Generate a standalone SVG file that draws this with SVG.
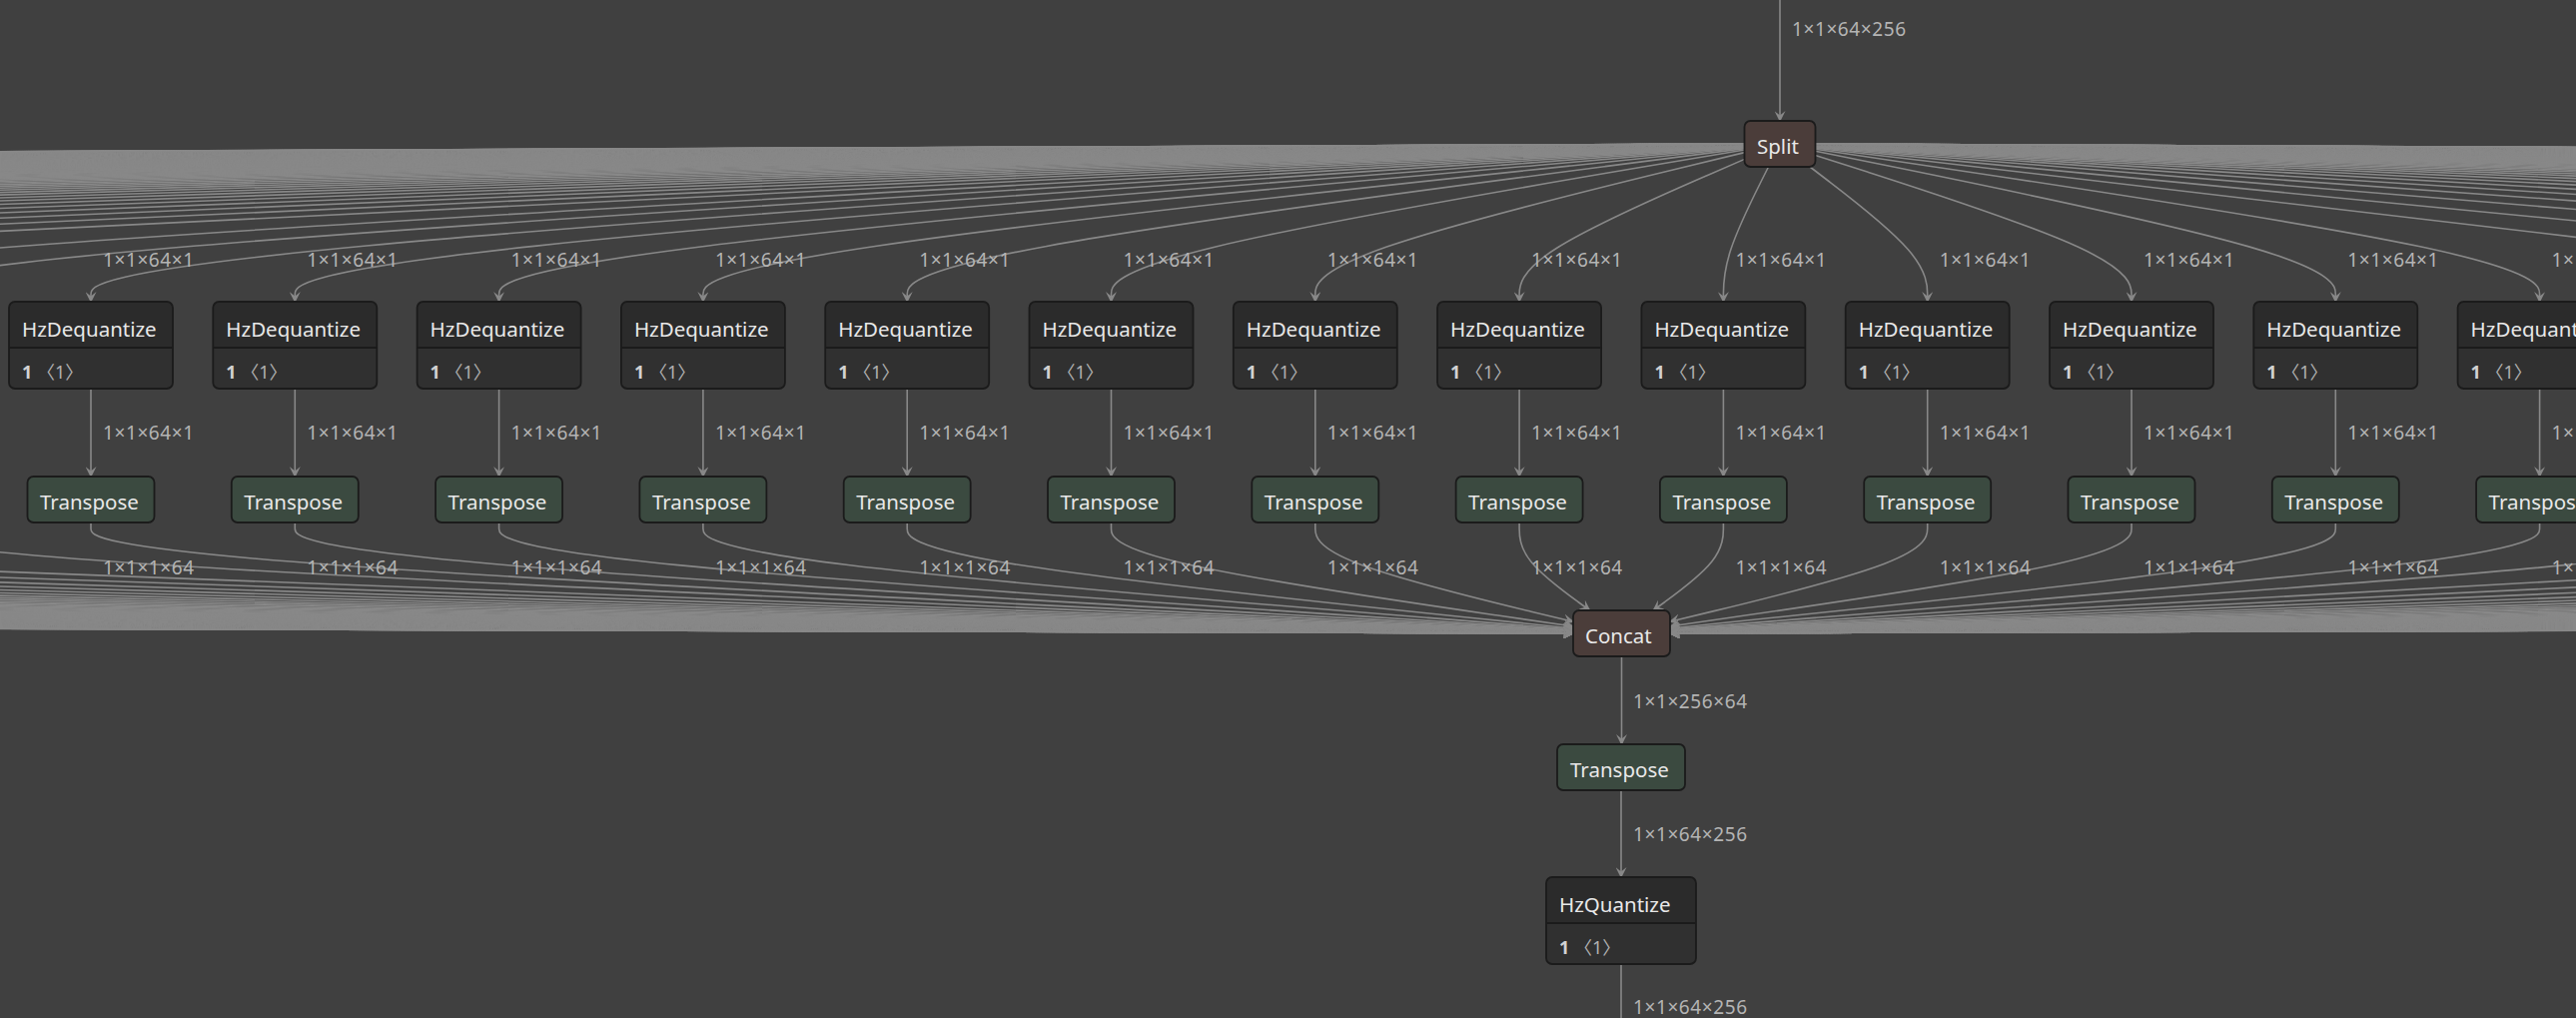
<svg xmlns="http://www.w3.org/2000/svg" width="2579" height="1019" viewBox="0 0 2579 1019">
<defs>
<marker id="arrow" viewBox="0 0 10 10" refX="9" refY="5" markerUnits="userSpaceOnUse" markerWidth="11" markerHeight="11" orient="auto"><path d="M0 0L10 5L0 10L4 5Z" fill="#888"/></marker>
<style>
.e path{fill:none;stroke:#888;stroke-width:1.6}
.e .a path,.e path.a{marker-end:url(#arrow)}
.lbl text{font-family:"Noto Sans","Open Sans",sans-serif;font-size:19px;fill:#b4b4b4;letter-spacing:0.6px;transform:translateY(1.5px)}
.nt{font-family:"Noto Sans","Open Sans",sans-serif;font-size:20.5px;fill:#e8e8e8;transform:translateY(1.5px)}
.at{font-family:"Noto Sans","Noto Sans CJK JP",sans-serif;font-size:18px;fill:#b0b0b0;transform:translateY(1.5px)}
.at .b{font-weight:bold;fill:#d2d2d2}
.bf{fill:#303030}
.hdr{fill:#2b2b2b}
.ol{fill:none;stroke:#1b1b1b;stroke-width:1.8}
.dv{stroke:#1b1b1b;stroke-width:1.8}
.tr{fill:#3b4a40;stroke:#1b1b1b;stroke-width:1.8}
.br{fill:#4b3d3a;stroke:#1b1b1b;stroke-width:1.8}
</style>
</defs>
<rect width="2579" height="1019" fill="#404040"/>
<g id="connectors" class="e">
<g id="split-far-left">
<path d="M1782 144L-521.9 257"/><path d="M1782 144L-726.2 257"/><path d="M1782 144L-930.5 257"/><path d="M1782 144L-1134.8 257"/><path d="M1782 144L-1339.1 257"/><path d="M1782 144L-1543.4 257"/><path d="M1782 144L-1747.7 257"/><path d="M1782 144L-1952 257"/><path d="M1782 144L-2156.3 257"/><path d="M1782 144L-2360.6 257"/><path d="M1782 144L-2564.9 257"/><path d="M1782 144L-2769.2 257"/><path d="M1782 144L-2973.5 257"/><path d="M1782 144L-3177.8 257"/><path d="M1782 144L-3382.1 257"/><path d="M1782 144L-3586.4 257"/><path d="M1782 144L-3790.7 257"/><path d="M1782 144L-3995 257"/><path d="M1782 144L-4199.3 257"/><path d="M1782 144L-4403.6 257"/><path d="M1782 144L-4607.9 257"/><path d="M1782 144L-4812.2 257"/><path d="M1782 144L-5016.5 257"/><path d="M1782 144L-5220.8 257"/><path d="M1782 144L-5425.1 257"/><path d="M1782 144L-5629.4 257"/><path d="M1782 144L-5833.7 257"/><path d="M1782 144L-6038 257"/><path d="M1782 144L-6242.3 257"/><path d="M1782 144L-6446.6 257"/><path d="M1782 144L-6650.9 257"/><path d="M1782 144L-6855.2 257"/><path d="M1782 144L-7059.5 257"/><path d="M1782 144L-7263.8 257"/><path d="M1782 144L-7468.1 257"/><path d="M1782 144L-7672.4 257"/><path d="M1782 144L-7876.7 257"/><path d="M1782 144L-8081 257"/><path d="M1782 144L-8285.3 257"/><path d="M1782 144L-8489.6 257"/><path d="M1782 144L-8693.9 257"/><path d="M1782 144L-8898.2 257"/><path d="M1782 144L-9102.5 257"/><path d="M1782 144L-9306.8 257"/><path d="M1782 144L-9511.1 257"/><path d="M1782 144L-9715.4 257"/><path d="M1782 144L-9919.7 257"/><path d="M1782 144L-10124 257"/><path d="M1782 144L-10328.3 257"/><path d="M1782 144L-10532.6 257"/><path d="M1782 144L-10736.9 257"/><path d="M1782 144L-10941.2 257"/><path d="M1782 144L-11145.5 257"/><path d="M1782 144L-11349.8 257"/><path d="M1782 144L-11554.1 257"/><path d="M1782 144L-11758.4 257"/><path d="M1782 144L-11962.7 257"/><path d="M1782 144L-12167 257"/><path d="M1782 144L-12371.3 257"/><path d="M1782 144L-12575.6 257"/><path d="M1782 144L-12779.9 257"/><path d="M1782 144L-12984.2 257"/><path d="M1782 144L-13188.5 257"/><path d="M1782 144L-13392.8 257"/><path d="M1782 144L-13597.1 257"/><path d="M1782 144L-13801.4 257"/><path d="M1782 144L-14005.7 257"/><path d="M1782 144L-14210 257"/><path d="M1782 144L-14414.3 257"/><path d="M1782 144L-14618.6 257"/><path d="M1782 144L-14822.9 257"/><path d="M1782 144L-15027.2 257"/><path d="M1782 144L-15231.5 257"/><path d="M1782 144L-15435.8 257"/><path d="M1782 144L-15640.1 257"/><path d="M1782 144L-15844.4 257"/><path d="M1782 144L-16048.7 257"/><path d="M1782 144L-16253 257"/><path d="M1782 144L-16457.3 257"/><path d="M1782 144L-16661.6 257"/><path d="M1782 144L-16865.9 257"/><path d="M1782 144L-17070.2 257"/><path d="M1782 144L-17274.5 257"/><path d="M1782 144L-17478.8 257"/><path d="M1782 144L-17683.1 257"/><path d="M1782 144L-17887.4 257"/><path d="M1782 144L-18091.7 257"/><path d="M1782 144L-18296 257"/><path d="M1782 144L-18500.3 257"/><path d="M1782 144L-18704.6 257"/><path d="M1782 144L-18908.9 257"/><path d="M1782 144L-19113.2 257"/><path d="M1782 144L-19317.5 257"/><path d="M1782 144L-19521.8 257"/><path d="M1782 144L-19726.1 257"/><path d="M1782 144L-19930.4 257"/><path d="M1782 144L-20134.7 257"/><path d="M1782 144L-20339 257"/><path d="M1782 144L-20543.3 257"/><path d="M1782 144L-20747.6 257"/><path d="M1782 144L-20951.9 257"/><path d="M1782 144L-21156.2 257"/><path d="M1782 144L-21360.5 257"/><path d="M1782 144L-21564.8 257"/><path d="M1782 144L-21769.1 257"/><path d="M1782 144L-21973.4 257"/><path d="M1782 144L-22177.7 257"/><path d="M1782 144L-22382 257"/><path d="M1782 144L-22586.3 257"/><path d="M1782 144L-22790.6 257"/><path d="M1782 144L-22994.9 257"/><path d="M1782 144L-23199.2 257"/><path d="M1782 144L-23403.5 257"/><path d="M1782 144L-23607.8 257"/><path d="M1782 144L-23812.1 257"/><path d="M1782 144L-24016.4 257"/><path d="M1782 144L-24220.7 257"/><path d="M1782 144L-24425 257"/>
</g>
<g id="split-far-right">
<path d="M1782 144L2746.9 257"/><path d="M1782 144L2951.2 257"/><path d="M1782 144L3155.5 257"/><path d="M1782 144L3359.8 257"/><path d="M1782 144L3564.1 257"/><path d="M1782 144L3768.4 257"/><path d="M1782 144L3972.7 257"/><path d="M1782 144L4177 257"/><path d="M1782 144L4381.3 257"/><path d="M1782 144L4585.6 257"/><path d="M1782 144L4789.9 257"/><path d="M1782 144L4994.2 257"/><path d="M1782 144L5198.5 257"/><path d="M1782 144L5402.8 257"/><path d="M1782 144L5607.1 257"/><path d="M1782 144L5811.4 257"/><path d="M1782 144L6015.7 257"/><path d="M1782 144L6220 257"/><path d="M1782 144L6424.3 257"/><path d="M1782 144L6628.6 257"/><path d="M1782 144L6832.9 257"/><path d="M1782 144L7037.2 257"/><path d="M1782 144L7241.5 257"/><path d="M1782 144L7445.8 257"/><path d="M1782 144L7650.1 257"/><path d="M1782 144L7854.4 257"/><path d="M1782 144L8058.7 257"/><path d="M1782 144L8263 257"/><path d="M1782 144L8467.3 257"/><path d="M1782 144L8671.6 257"/><path d="M1782 144L8875.9 257"/><path d="M1782 144L9080.2 257"/><path d="M1782 144L9284.5 257"/><path d="M1782 144L9488.8 257"/><path d="M1782 144L9693.1 257"/><path d="M1782 144L9897.4 257"/><path d="M1782 144L10101.7 257"/><path d="M1782 144L10306 257"/><path d="M1782 144L10510.3 257"/><path d="M1782 144L10714.6 257"/><path d="M1782 144L10918.9 257"/><path d="M1782 144L11123.2 257"/><path d="M1782 144L11327.5 257"/><path d="M1782 144L11531.8 257"/><path d="M1782 144L11736.1 257"/><path d="M1782 144L11940.4 257"/><path d="M1782 144L12144.7 257"/><path d="M1782 144L12349 257"/><path d="M1782 144L12553.3 257"/><path d="M1782 144L12757.6 257"/><path d="M1782 144L12961.9 257"/><path d="M1782 144L13166.2 257"/><path d="M1782 144L13370.5 257"/><path d="M1782 144L13574.8 257"/><path d="M1782 144L13779.1 257"/><path d="M1782 144L13983.4 257"/><path d="M1782 144L14187.7 257"/><path d="M1782 144L14392 257"/><path d="M1782 144L14596.3 257"/><path d="M1782 144L14800.6 257"/><path d="M1782 144L15004.9 257"/><path d="M1782 144L15209.2 257"/><path d="M1782 144L15413.5 257"/><path d="M1782 144L15617.8 257"/><path d="M1782 144L15822.1 257"/><path d="M1782 144L16026.4 257"/><path d="M1782 144L16230.7 257"/><path d="M1782 144L16435 257"/><path d="M1782 144L16639.3 257"/><path d="M1782 144L16843.6 257"/><path d="M1782 144L17047.9 257"/><path d="M1782 144L17252.2 257"/><path d="M1782 144L17456.5 257"/><path d="M1782 144L17660.8 257"/><path d="M1782 144L17865.1 257"/><path d="M1782 144L18069.4 257"/><path d="M1782 144L18273.7 257"/><path d="M1782 144L18478 257"/><path d="M1782 144L18682.3 257"/><path d="M1782 144L18886.6 257"/><path d="M1782 144L19090.9 257"/><path d="M1782 144L19295.2 257"/><path d="M1782 144L19499.5 257"/><path d="M1782 144L19703.8 257"/><path d="M1782 144L19908.1 257"/><path d="M1782 144L20112.4 257"/><path d="M1782 144L20316.7 257"/><path d="M1782 144L20521 257"/><path d="M1782 144L20725.3 257"/><path d="M1782 144L20929.6 257"/><path d="M1782 144L21133.9 257"/><path d="M1782 144L21338.2 257"/><path d="M1782 144L21542.5 257"/><path d="M1782 144L21746.8 257"/><path d="M1782 144L21951.1 257"/><path d="M1782 144L22155.4 257"/><path d="M1782 144L22359.7 257"/><path d="M1782 144L22564 257"/><path d="M1782 144L22768.3 257"/><path d="M1782 144L22972.6 257"/><path d="M1782 144L23176.9 257"/><path d="M1782 144L23381.2 257"/><path d="M1782 144L23585.5 257"/><path d="M1782 144L23789.8 257"/><path d="M1782 144L23994.1 257"/><path d="M1782 144L24198.4 257"/><path d="M1782 144L24402.7 257"/><path d="M1782 144L24607 257"/><path d="M1782 144L24811.3 257"/><path d="M1782 144L25015.6 257"/><path d="M1782 144L25219.9 257"/><path d="M1782 144L25424.2 257"/><path d="M1782 144L25628.5 257"/><path d="M1782 144L25832.8 257"/><path d="M1782 144L26037.1 257"/><path d="M1782 144L26241.4 257"/><path d="M1782 144L26445.7 257"/><path d="M1782 144L26650 257"/><path d="M1782 144L26854.3 257"/><path d="M1782 144L27058.6 257"/><path d="M1782 144L27262.9 257"/><path d="M1782 144L27467.2 257"/><path d="M1782 144L27671.5 257"/>
</g>
<g id="split-near" class="a">
<path d="M1746.5 145.91L1402.48 164.43C1058.47 182.94 370.43 219.97 26.42 245.99C-317.6 272 -317.6 287 -317.6 294.5L-317.6 302"/>
<path d="M1746.5 146.12L1436.53 164.6C1126.57 183.08 506.63 220.04 196.67 246.02C-113.3 272 -113.3 287 -113.3 294.5L-113.3 302"/>
<path d="M1746.5 146.37L1470.58 164.81C1194.67 183.25 642.83 220.12 366.92 246.06C91 272 91 287 91 294.5L91 302"/>
<path d="M1746.5 146.7L1504.63 165.08C1262.77 183.47 779.03 220.23 537.17 246.12C295.3 272 295.3 287 295.3 294.5L295.3 302"/>
<path d="M1746.5 147.13L1538.68 165.44C1330.87 183.75 915.23 220.38 707.42 246.19C499.6 272 499.6 287 499.6 294.5L499.6 302"/>
<path d="M1746.5 147.72L1572.73 165.93C1398.97 184.15 1051.43 220.57 877.67 246.29C703.9 272 703.9 287 703.9 294.5L703.9 302"/>
<path d="M1746.5 148.59L1606.78 166.66C1467.07 184.73 1187.63 220.86 1047.92 246.43C908.2 272 908.2 287 908.2 294.5L908.2 302"/>
<path d="M1746.5 149.99L1640.83 167.83C1535.17 185.66 1323.83 221.33 1218.17 246.67C1112.5 272 1112.5 287 1112.5 294.5L1112.5 302"/>
<path d="M1746.5 152.62L1674.88 170.02C1603.27 187.41 1460.03 222.21 1388.42 247.1C1316.8 272 1316.8 287 1316.8 294.5L1316.8 302"/>
<path d="M1746.5 159.38L1708.93 175.65C1671.37 191.92 1596.23 224.46 1558.67 248.23C1521.1 272 1521.1 287 1521.1 294.5L1521.1 302"/>
<path d="M1770.48 167L1762.97 182C1755.45 197 1740.43 227 1732.91 249.5C1725.4 272 1725.4 287 1725.4 294.5L1725.4 302"/>
<path d="M1812.06 167L1831.67 182C1851.27 197 1890.49 227 1910.09 249.5C1929.7 272 1929.7 287 1929.7 294.5L1929.7 302"/>
<path d="M1817.5 155.4L1870.25 172.33C1923 189.27 2028.5 223.13 2081.25 247.57C2134 272 2134 287 2134 294.5L2134 302"/>
<path d="M1817.5 151.21L1904.3 168.84C1991.1 186.47 2164.7 221.74 2251.5 246.87C2338.3 272 2338.3 287 2338.3 294.5L2338.3 302"/>
<path d="M1817.5 149.27L1938.35 167.23C2059.2 185.18 2300.9 221.09 2421.75 246.55C2542.6 272 2542.6 287 2542.6 294.5L2542.6 302"/>
</g>
<g id="deq-to-transpose" class="a">
<path d="M91 389V477"/><path d="M295.3 389V477"/><path d="M499.6 389V477"/><path d="M703.9 389V477"/><path d="M908.2 389V477"/><path d="M1112.5 389V477"/><path d="M1316.8 389V477"/><path d="M1521.1 389V477"/><path d="M1725.4 389V477"/><path d="M1929.7 389V477"/><path d="M2134 389V477"/><path d="M2338.3 389V477"/><path d="M2542.6 389V477"/>
</g>
<g id="concat-near" class="a">
<path d="M-113.3 523L-113.3 529.17C-113.3 535.33 -113.3 547.67 168.08 565.82C449.47 583.98 1012.23 607.95 1293.62 619.94L1575 631.93"/>
<path d="M91 523L91 529.17C91 535.33 91 547.67 338.33 565.78C585.67 583.89 1080.33 607.77 1327.67 619.72L1575 631.66"/>
<path d="M295.3 523L295.3 529.17C295.3 535.33 295.3 547.67 508.58 565.72C721.87 583.77 1148.43 607.53 1361.72 619.42L1575 631.3"/>
<path d="M499.6 523L499.6 529.17C499.6 535.33 499.6 547.67 678.83 565.64C858.07 583.6 1216.53 607.21 1395.77 619.01L1575 630.81"/>
<path d="M703.9 523L703.9 529.17C703.9 535.33 703.9 547.67 849.08 565.52C994.27 583.37 1284.63 606.73 1429.82 618.42L1575 630.1"/>
<path d="M908.2 523L908.2 529.17C908.2 535.33 908.2 547.67 1019.33 565.33C1130.47 582.99 1352.73 605.99 1463.87 617.48L1575 628.98"/>
<path d="M1112.5 523L1112.5 529.17C1112.5 535.33 1112.5 547.67 1189.58 565C1266.67 582.33 1420.83 604.65 1497.92 615.82L1575 626.98"/>
<path d="M1316.8 523L1316.8 529.17C1316.8 535.33 1316.8 547.67 1359.83 564.22C1402.87 580.77 1488.93 601.53 1531.97 611.92L1575 622.3"/>
<path d="M1521.1 523L1521.1 529.17C1521.1 535.33 1521.1 547.67 1532.86 562.33C1544.62 577 1568.15 594 1579.91 602.5L1591.67 611"/>
<path d="M1725.4 523L1725.4 529.17C1725.4 535.33 1725.4 547.67 1713.7 562.33C1701.99 577 1678.58 594 1666.88 602.5L1655.17 611"/>
<path d="M1929.7 523L1929.7 529.17C1929.7 535.33 1929.7 547.67 1886.75 564.21C1843.8 580.76 1757.9 601.52 1714.95 611.9L1672 622.28"/>
<path d="M2134 523L2134 529.17C2134 535.33 2134 547.67 2057 565C1980 582.32 1826 604.65 1749 615.81L1672 626.97"/>
<path d="M2338.3 523L2338.3 529.17C2338.3 535.33 2338.3 547.67 2227.25 565.33C2116.2 582.99 1894.1 605.99 1783.05 617.48L1672 628.98"/>
<path d="M2542.6 523L2542.6 529.17C2542.6 535.33 2542.6 547.67 2397.5 565.52C2252.4 583.37 1962.2 606.73 1817.1 618.42L1672 630.1"/>
<path d="M2746.9 523L2746.9 529.17C2746.9 535.33 2746.9 547.67 2567.75 565.64C2388.6 583.6 2030.3 607.21 1851.15 619.01L1672 630.81"/>
</g>
<g id="concat-far-left" class="a">
<path d="M-317.6 560L1575 632.2"/><path d="M-521.9 560L1575 632.3"/><path d="M-726.2 560L1575 632.5"/><path d="M-930.5 560L1575 632.6"/><path d="M-1134.8 560L1575 632.7"/><path d="M-1339.1 560L1575 632.8"/><path d="M-1543.4 560L1575 632.9"/><path d="M-1747.7 560L1575 632.9"/><path d="M-1952 560L1575 633"/><path d="M-2156.3 560L1575 633.1"/><path d="M-2360.6 560L1575 633.1"/><path d="M-2564.9 560L1575 633.1"/><path d="M-2769.2 560L1575 633.2"/><path d="M-2973.5 560L1575 633.2"/><path d="M-3177.8 560L1575 633.3"/><path d="M-3382.1 560L1575 633.3"/><path d="M-3586.4 560L1575 633.3"/><path d="M-3790.7 560L1575 633.3"/><path d="M-3995 560L1575 633.4"/><path d="M-4199.3 560L1575 633.4"/><path d="M-4403.6 560L1575 633.4"/><path d="M-4607.9 560L1575 633.4"/><path d="M-4812.2 560L1575 633.4"/><path d="M-5016.5 560L1575 633.5"/><path d="M-5220.8 560L1575 633.5"/><path d="M-5425.1 560L1575 633.5"/><path d="M-5629.4 560L1575 633.5"/><path d="M-5833.7 560L1575 633.5"/><path d="M-6038 560L1575 633.5"/><path d="M-6242.3 560L1575 633.5"/><path d="M-6446.6 560L1575 633.6"/><path d="M-6650.9 560L1575 633.6"/><path d="M-6855.2 560L1575 633.6"/><path d="M-7059.5 560L1575 633.6"/><path d="M-7263.8 560L1575 633.6"/><path d="M-7468.1 560L1575 633.6"/><path d="M-7672.4 560L1575 633.6"/><path d="M-7876.7 560L1575 633.6"/><path d="M-8081 560L1575 633.6"/><path d="M-8285.3 560L1575 633.6"/><path d="M-8489.6 560L1575 633.6"/><path d="M-8693.9 560L1575 633.7"/><path d="M-8898.2 560L1575 633.7"/><path d="M-9102.5 560L1575 633.7"/><path d="M-9306.8 560L1575 633.7"/><path d="M-9511.1 560L1575 633.7"/><path d="M-9715.4 560L1575 633.7"/><path d="M-9919.7 560L1575 633.7"/><path d="M-10124 560L1575 633.7"/><path d="M-10328.3 560L1575 633.7"/><path d="M-10532.6 560L1575 633.7"/><path d="M-10736.9 560L1575 633.7"/><path d="M-10941.2 560L1575 633.7"/><path d="M-11145.5 560L1575 633.7"/><path d="M-11349.8 560L1575 633.7"/><path d="M-11554.1 560L1575 633.7"/><path d="M-11758.4 560L1575 633.7"/><path d="M-11962.7 560L1575 633.7"/><path d="M-12167 560L1575 633.7"/><path d="M-12371.3 560L1575 633.7"/><path d="M-12575.6 560L1575 633.7"/><path d="M-12779.9 560L1575 633.7"/><path d="M-12984.2 560L1575 633.8"/><path d="M-13188.5 560L1575 633.8"/><path d="M-13392.8 560L1575 633.8"/><path d="M-13597.1 560L1575 633.8"/><path d="M-13801.4 560L1575 633.8"/><path d="M-14005.7 560L1575 633.8"/><path d="M-14210 560L1575 633.8"/><path d="M-14414.3 560L1575 633.8"/><path d="M-14618.6 560L1575 633.8"/><path d="M-14822.9 560L1575 633.8"/><path d="M-15027.2 560L1575 633.8"/><path d="M-15231.5 560L1575 633.8"/><path d="M-15435.8 560L1575 633.8"/><path d="M-15640.1 560L1575 633.8"/><path d="M-15844.4 560L1575 633.8"/><path d="M-16048.7 560L1575 633.8"/><path d="M-16253 560L1575 633.8"/><path d="M-16457.3 560L1575 633.8"/><path d="M-16661.6 560L1575 633.8"/><path d="M-16865.9 560L1575 633.8"/><path d="M-17070.2 560L1575 633.8"/><path d="M-17274.5 560L1575 633.8"/><path d="M-17478.8 560L1575 633.8"/><path d="M-17683.1 560L1575 633.8"/><path d="M-17887.4 560L1575 633.8"/><path d="M-18091.7 560L1575 633.8"/><path d="M-18296 560L1575 633.8"/><path d="M-18500.3 560L1575 633.8"/><path d="M-18704.6 560L1575 633.8"/><path d="M-18908.9 560L1575 633.8"/><path d="M-19113.2 560L1575 633.8"/><path d="M-19317.5 560L1575 633.8"/><path d="M-19521.8 560L1575 633.8"/><path d="M-19726.1 560L1575 633.8"/><path d="M-19930.4 560L1575 633.8"/><path d="M-20134.7 560L1575 633.8"/><path d="M-20339 560L1575 633.8"/><path d="M-20543.3 560L1575 633.8"/><path d="M-20747.6 560L1575 633.8"/><path d="M-20951.9 560L1575 633.8"/><path d="M-21156.2 560L1575 633.8"/><path d="M-21360.5 560L1575 633.8"/><path d="M-21564.8 560L1575 633.8"/><path d="M-21769.1 560L1575 633.8"/><path d="M-21973.4 560L1575 633.8"/><path d="M-22177.7 560L1575 633.8"/><path d="M-22382 560L1575 633.8"/><path d="M-22586.3 560L1575 633.8"/><path d="M-22790.6 560L1575 633.8"/><path d="M-22994.9 560L1575 633.8"/><path d="M-23199.2 560L1575 633.8"/><path d="M-23403.5 560L1575 633.8"/><path d="M-23607.8 560L1575 633.8"/><path d="M-23812.1 560L1575 633.8"/><path d="M-24016.4 560L1575 633.8"/><path d="M-24220.7 560L1575 633.8"/><path d="M-24425 560L1575 633.8"/>
</g>
<g id="concat-far-right" class="a">
<path d="M2951.2 560L1672 631.3"/><path d="M3155.5 560L1672 631.7"/><path d="M3359.8 560L1672 631.9"/><path d="M3564.1 560L1672 632.2"/><path d="M3768.4 560L1672 632.3"/><path d="M3972.7 560L1672 632.5"/><path d="M4177 560L1672 632.6"/><path d="M4381.3 560L1672 632.7"/><path d="M4585.6 560L1672 632.8"/><path d="M4789.9 560L1672 632.9"/><path d="M4994.2 560L1672 632.9"/><path d="M5198.5 560L1672 633"/><path d="M5402.8 560L1672 633.1"/><path d="M5607.1 560L1672 633.1"/><path d="M5811.4 560L1672 633.1"/><path d="M6015.7 560L1672 633.2"/><path d="M6220 560L1672 633.2"/><path d="M6424.3 560L1672 633.3"/><path d="M6628.6 560L1672 633.3"/><path d="M6832.9 560L1672 633.3"/><path d="M7037.2 560L1672 633.3"/><path d="M7241.5 560L1672 633.4"/><path d="M7445.8 560L1672 633.4"/><path d="M7650.1 560L1672 633.4"/><path d="M7854.4 560L1672 633.4"/><path d="M8058.7 560L1672 633.4"/><path d="M8263 560L1672 633.5"/><path d="M8467.3 560L1672 633.5"/><path d="M8671.6 560L1672 633.5"/><path d="M8875.9 560L1672 633.5"/><path d="M9080.2 560L1672 633.5"/><path d="M9284.5 560L1672 633.5"/><path d="M9488.8 560L1672 633.5"/><path d="M9693.1 560L1672 633.6"/><path d="M9897.4 560L1672 633.6"/><path d="M10101.7 560L1672 633.6"/><path d="M10306 560L1672 633.6"/><path d="M10510.3 560L1672 633.6"/><path d="M10714.6 560L1672 633.6"/><path d="M10918.9 560L1672 633.6"/><path d="M11123.2 560L1672 633.6"/><path d="M11327.5 560L1672 633.6"/><path d="M11531.8 560L1672 633.6"/><path d="M11736.1 560L1672 633.6"/><path d="M11940.4 560L1672 633.7"/><path d="M12144.7 560L1672 633.7"/><path d="M12349 560L1672 633.7"/><path d="M12553.3 560L1672 633.7"/><path d="M12757.6 560L1672 633.7"/><path d="M12961.9 560L1672 633.7"/><path d="M13166.2 560L1672 633.7"/><path d="M13370.5 560L1672 633.7"/><path d="M13574.8 560L1672 633.7"/><path d="M13779.1 560L1672 633.7"/><path d="M13983.4 560L1672 633.7"/><path d="M14187.7 560L1672 633.7"/><path d="M14392 560L1672 633.7"/><path d="M14596.3 560L1672 633.7"/><path d="M14800.6 560L1672 633.7"/><path d="M15004.9 560L1672 633.7"/><path d="M15209.2 560L1672 633.7"/><path d="M15413.5 560L1672 633.7"/><path d="M15617.8 560L1672 633.7"/><path d="M15822.1 560L1672 633.7"/><path d="M16026.4 560L1672 633.7"/><path d="M16230.7 560L1672 633.8"/><path d="M16435 560L1672 633.8"/><path d="M16639.3 560L1672 633.8"/><path d="M16843.6 560L1672 633.8"/><path d="M17047.9 560L1672 633.8"/><path d="M17252.2 560L1672 633.8"/><path d="M17456.5 560L1672 633.8"/><path d="M17660.8 560L1672 633.8"/><path d="M17865.1 560L1672 633.8"/><path d="M18069.4 560L1672 633.8"/><path d="M18273.7 560L1672 633.8"/><path d="M18478 560L1672 633.8"/><path d="M18682.3 560L1672 633.8"/><path d="M18886.6 560L1672 633.8"/><path d="M19090.9 560L1672 633.8"/><path d="M19295.2 560L1672 633.8"/><path d="M19499.5 560L1672 633.8"/><path d="M19703.8 560L1672 633.8"/><path d="M19908.1 560L1672 633.8"/><path d="M20112.4 560L1672 633.8"/><path d="M20316.7 560L1672 633.8"/><path d="M20521 560L1672 633.8"/><path d="M20725.3 560L1672 633.8"/><path d="M20929.6 560L1672 633.8"/><path d="M21133.9 560L1672 633.8"/><path d="M21338.2 560L1672 633.8"/><path d="M21542.5 560L1672 633.8"/><path d="M21746.8 560L1672 633.8"/><path d="M21951.1 560L1672 633.8"/><path d="M22155.4 560L1672 633.8"/><path d="M22359.7 560L1672 633.8"/><path d="M22564 560L1672 633.8"/><path d="M22768.3 560L1672 633.8"/><path d="M22972.6 560L1672 633.8"/><path d="M23176.9 560L1672 633.8"/><path d="M23381.2 560L1672 633.8"/><path d="M23585.5 560L1672 633.8"/><path d="M23789.8 560L1672 633.8"/><path d="M23994.1 560L1672 633.8"/><path d="M24198.4 560L1672 633.8"/><path d="M24402.7 560L1672 633.8"/><path d="M24607 560L1672 633.8"/><path d="M24811.3 560L1672 633.8"/><path d="M25015.6 560L1672 633.8"/><path d="M25219.9 560L1672 633.8"/><path d="M25424.2 560L1672 633.8"/><path d="M25628.5 560L1672 633.8"/><path d="M25832.8 560L1672 633.8"/><path d="M26037.1 560L1672 633.8"/><path d="M26241.4 560L1672 633.8"/><path d="M26445.7 560L1672 633.8"/><path d="M26650 560L1672 633.8"/><path d="M26854.3 560L1672 633.8"/><path d="M27058.6 560L1672 633.8"/><path d="M27262.9 560L1672 633.8"/><path d="M27467.2 560L1672 633.8"/><path d="M27671.5 560L1672 633.8"/>
</g>
<g id="main-chain" class="a">
<path d="M1782 0V121"/>
<path d="M1623.5 657V745"/>
<path d="M1623 791V878"/>
</g>
<path d="M1623 965V1019"/>
<g id="edge-labels" class="lbl">
<text x="1794" y="34">1×1×64×256</text>
<text x="103" y="265">1×1×64×1</text><text x="307.3" y="265">1×1×64×1</text><text x="511.6" y="265">1×1×64×1</text><text x="715.9" y="265">1×1×64×1</text><text x="920.2" y="265">1×1×64×1</text><text x="1124.5" y="265">1×1×64×1</text><text x="1328.8" y="265">1×1×64×1</text><text x="1533.1" y="265">1×1×64×1</text><text x="1737.4" y="265">1×1×64×1</text><text x="1941.7" y="265">1×1×64×1</text><text x="2146" y="265">1×1×64×1</text><text x="2350.3" y="265">1×1×64×1</text><text x="2554.6" y="265">1×1×64×1</text>
<text x="103" y="438">1×1×64×1</text><text x="307.3" y="438">1×1×64×1</text><text x="511.6" y="438">1×1×64×1</text><text x="715.9" y="438">1×1×64×1</text><text x="920.2" y="438">1×1×64×1</text><text x="1124.5" y="438">1×1×64×1</text><text x="1328.8" y="438">1×1×64×1</text><text x="1533.1" y="438">1×1×64×1</text><text x="1737.4" y="438">1×1×64×1</text><text x="1941.7" y="438">1×1×64×1</text><text x="2146" y="438">1×1×64×1</text><text x="2350.3" y="438">1×1×64×1</text><text x="2554.6" y="438">1×1×64×1</text>
<text x="103" y="573">1×1×1×64</text><text x="307.3" y="573">1×1×1×64</text><text x="511.6" y="573">1×1×1×64</text><text x="715.9" y="573">1×1×1×64</text><text x="920.2" y="573">1×1×1×64</text><text x="1124.5" y="573">1×1×1×64</text><text x="1328.8" y="573">1×1×1×64</text><text x="1533.1" y="573">1×1×1×64</text><text x="1737.4" y="573">1×1×1×64</text><text x="1941.7" y="573">1×1×1×64</text><text x="2146" y="573">1×1×1×64</text><text x="2350.3" y="573">1×1×1×64</text><text x="2554.6" y="573">1×1×1×64</text>
<text x="1635" y="707">1×1×256×64</text>
<text x="1635" y="840">1×1×64×256</text>
<text x="1635" y="1013">1×1×64×256</text>
</g>
</g>
<g id="nodes">
<g id="split"><rect class="br" x="1746.5" y="121" width="71" height="46" rx="6"/><text class="nt" x="1759" y="152">Split</text></g>
<g id="hzdequantize-0" transform="translate(91 0)"><rect class="bf" x="-82" y="302" width="164" height="87" rx="6"/><path class="hdr" d="M-82 348V308a6 6 0 0 1 6-6H76a6 6 0 0 1 6 6V348Z"/><rect class="ol" x="-82" y="302" width="164" height="87" rx="6"/><path class="dv" d="M-82 348H82"/><text class="nt" x="-69" y="335">HzDequantize</text><text class="at" x="-69" y="377"><tspan class="b">1</tspan> 〈1〉</text></g>
<g id="hzdequantize-1" transform="translate(295.3 0)"><rect class="bf" x="-82" y="302" width="164" height="87" rx="6"/><path class="hdr" d="M-82 348V308a6 6 0 0 1 6-6H76a6 6 0 0 1 6 6V348Z"/><rect class="ol" x="-82" y="302" width="164" height="87" rx="6"/><path class="dv" d="M-82 348H82"/><text class="nt" x="-69" y="335">HzDequantize</text><text class="at" x="-69" y="377"><tspan class="b">1</tspan> 〈1〉</text></g>
<g id="hzdequantize-2" transform="translate(499.6 0)"><rect class="bf" x="-82" y="302" width="164" height="87" rx="6"/><path class="hdr" d="M-82 348V308a6 6 0 0 1 6-6H76a6 6 0 0 1 6 6V348Z"/><rect class="ol" x="-82" y="302" width="164" height="87" rx="6"/><path class="dv" d="M-82 348H82"/><text class="nt" x="-69" y="335">HzDequantize</text><text class="at" x="-69" y="377"><tspan class="b">1</tspan> 〈1〉</text></g>
<g id="hzdequantize-3" transform="translate(703.9 0)"><rect class="bf" x="-82" y="302" width="164" height="87" rx="6"/><path class="hdr" d="M-82 348V308a6 6 0 0 1 6-6H76a6 6 0 0 1 6 6V348Z"/><rect class="ol" x="-82" y="302" width="164" height="87" rx="6"/><path class="dv" d="M-82 348H82"/><text class="nt" x="-69" y="335">HzDequantize</text><text class="at" x="-69" y="377"><tspan class="b">1</tspan> 〈1〉</text></g>
<g id="hzdequantize-4" transform="translate(908.2 0)"><rect class="bf" x="-82" y="302" width="164" height="87" rx="6"/><path class="hdr" d="M-82 348V308a6 6 0 0 1 6-6H76a6 6 0 0 1 6 6V348Z"/><rect class="ol" x="-82" y="302" width="164" height="87" rx="6"/><path class="dv" d="M-82 348H82"/><text class="nt" x="-69" y="335">HzDequantize</text><text class="at" x="-69" y="377"><tspan class="b">1</tspan> 〈1〉</text></g>
<g id="hzdequantize-5" transform="translate(1112.5 0)"><rect class="bf" x="-82" y="302" width="164" height="87" rx="6"/><path class="hdr" d="M-82 348V308a6 6 0 0 1 6-6H76a6 6 0 0 1 6 6V348Z"/><rect class="ol" x="-82" y="302" width="164" height="87" rx="6"/><path class="dv" d="M-82 348H82"/><text class="nt" x="-69" y="335">HzDequantize</text><text class="at" x="-69" y="377"><tspan class="b">1</tspan> 〈1〉</text></g>
<g id="hzdequantize-6" transform="translate(1316.8 0)"><rect class="bf" x="-82" y="302" width="164" height="87" rx="6"/><path class="hdr" d="M-82 348V308a6 6 0 0 1 6-6H76a6 6 0 0 1 6 6V348Z"/><rect class="ol" x="-82" y="302" width="164" height="87" rx="6"/><path class="dv" d="M-82 348H82"/><text class="nt" x="-69" y="335">HzDequantize</text><text class="at" x="-69" y="377"><tspan class="b">1</tspan> 〈1〉</text></g>
<g id="hzdequantize-7" transform="translate(1521.1 0)"><rect class="bf" x="-82" y="302" width="164" height="87" rx="6"/><path class="hdr" d="M-82 348V308a6 6 0 0 1 6-6H76a6 6 0 0 1 6 6V348Z"/><rect class="ol" x="-82" y="302" width="164" height="87" rx="6"/><path class="dv" d="M-82 348H82"/><text class="nt" x="-69" y="335">HzDequantize</text><text class="at" x="-69" y="377"><tspan class="b">1</tspan> 〈1〉</text></g>
<g id="hzdequantize-8" transform="translate(1725.4 0)"><rect class="bf" x="-82" y="302" width="164" height="87" rx="6"/><path class="hdr" d="M-82 348V308a6 6 0 0 1 6-6H76a6 6 0 0 1 6 6V348Z"/><rect class="ol" x="-82" y="302" width="164" height="87" rx="6"/><path class="dv" d="M-82 348H82"/><text class="nt" x="-69" y="335">HzDequantize</text><text class="at" x="-69" y="377"><tspan class="b">1</tspan> 〈1〉</text></g>
<g id="hzdequantize-9" transform="translate(1929.7 0)"><rect class="bf" x="-82" y="302" width="164" height="87" rx="6"/><path class="hdr" d="M-82 348V308a6 6 0 0 1 6-6H76a6 6 0 0 1 6 6V348Z"/><rect class="ol" x="-82" y="302" width="164" height="87" rx="6"/><path class="dv" d="M-82 348H82"/><text class="nt" x="-69" y="335">HzDequantize</text><text class="at" x="-69" y="377"><tspan class="b">1</tspan> 〈1〉</text></g>
<g id="hzdequantize-10" transform="translate(2134 0)"><rect class="bf" x="-82" y="302" width="164" height="87" rx="6"/><path class="hdr" d="M-82 348V308a6 6 0 0 1 6-6H76a6 6 0 0 1 6 6V348Z"/><rect class="ol" x="-82" y="302" width="164" height="87" rx="6"/><path class="dv" d="M-82 348H82"/><text class="nt" x="-69" y="335">HzDequantize</text><text class="at" x="-69" y="377"><tspan class="b">1</tspan> 〈1〉</text></g>
<g id="hzdequantize-11" transform="translate(2338.3 0)"><rect class="bf" x="-82" y="302" width="164" height="87" rx="6"/><path class="hdr" d="M-82 348V308a6 6 0 0 1 6-6H76a6 6 0 0 1 6 6V348Z"/><rect class="ol" x="-82" y="302" width="164" height="87" rx="6"/><path class="dv" d="M-82 348H82"/><text class="nt" x="-69" y="335">HzDequantize</text><text class="at" x="-69" y="377"><tspan class="b">1</tspan> 〈1〉</text></g>
<g id="hzdequantize-12" transform="translate(2542.6 0)"><rect class="bf" x="-82" y="302" width="164" height="87" rx="6"/><path class="hdr" d="M-82 348V308a6 6 0 0 1 6-6H76a6 6 0 0 1 6 6V348Z"/><rect class="ol" x="-82" y="302" width="164" height="87" rx="6"/><path class="dv" d="M-82 348H82"/><text class="nt" x="-69" y="335">HzDequantize</text><text class="at" x="-69" y="377"><tspan class="b">1</tspan> 〈1〉</text></g>
<g id="transpose-0" transform="translate(91 0)"><rect class="tr" x="-63.5" y="477" width="127" height="46" rx="6"/><text class="nt" x="-51" y="508">Transpose</text></g>
<g id="transpose-1" transform="translate(295.3 0)"><rect class="tr" x="-63.5" y="477" width="127" height="46" rx="6"/><text class="nt" x="-51" y="508">Transpose</text></g>
<g id="transpose-2" transform="translate(499.6 0)"><rect class="tr" x="-63.5" y="477" width="127" height="46" rx="6"/><text class="nt" x="-51" y="508">Transpose</text></g>
<g id="transpose-3" transform="translate(703.9 0)"><rect class="tr" x="-63.5" y="477" width="127" height="46" rx="6"/><text class="nt" x="-51" y="508">Transpose</text></g>
<g id="transpose-4" transform="translate(908.2 0)"><rect class="tr" x="-63.5" y="477" width="127" height="46" rx="6"/><text class="nt" x="-51" y="508">Transpose</text></g>
<g id="transpose-5" transform="translate(1112.5 0)"><rect class="tr" x="-63.5" y="477" width="127" height="46" rx="6"/><text class="nt" x="-51" y="508">Transpose</text></g>
<g id="transpose-6" transform="translate(1316.8 0)"><rect class="tr" x="-63.5" y="477" width="127" height="46" rx="6"/><text class="nt" x="-51" y="508">Transpose</text></g>
<g id="transpose-7" transform="translate(1521.1 0)"><rect class="tr" x="-63.5" y="477" width="127" height="46" rx="6"/><text class="nt" x="-51" y="508">Transpose</text></g>
<g id="transpose-8" transform="translate(1725.4 0)"><rect class="tr" x="-63.5" y="477" width="127" height="46" rx="6"/><text class="nt" x="-51" y="508">Transpose</text></g>
<g id="transpose-9" transform="translate(1929.7 0)"><rect class="tr" x="-63.5" y="477" width="127" height="46" rx="6"/><text class="nt" x="-51" y="508">Transpose</text></g>
<g id="transpose-10" transform="translate(2134 0)"><rect class="tr" x="-63.5" y="477" width="127" height="46" rx="6"/><text class="nt" x="-51" y="508">Transpose</text></g>
<g id="transpose-11" transform="translate(2338.3 0)"><rect class="tr" x="-63.5" y="477" width="127" height="46" rx="6"/><text class="nt" x="-51" y="508">Transpose</text></g>
<g id="transpose-12" transform="translate(2542.6 0)"><rect class="tr" x="-63.5" y="477" width="127" height="46" rx="6"/><text class="nt" x="-51" y="508">Transpose</text></g>
<g id="concat"><rect class="br" x="1575" y="611" width="97" height="46" rx="6"/><text class="nt" x="1587" y="642">Concat</text></g>
<g id="transpose-out"><rect class="tr" x="1559" y="745" width="128" height="46" rx="6"/><text class="nt" x="1572" y="776">Transpose</text></g>
<g id="hzquantize" transform="translate(1623 0)"><rect class="bf" x="-75" y="878" width="150" height="87" rx="6"/><path class="hdr" d="M-75 924V884a6 6 0 0 1 6-6H69a6 6 0 0 1 6 6V924Z"/><rect class="ol" x="-75" y="878" width="150" height="87" rx="6"/><path class="dv" d="M-75 924H75"/><text class="nt" x="-62" y="911">HzQuantize</text><text class="at" x="-62" y="953"><tspan class="b">1</tspan> 〈1〉</text></g>
</g>
</svg>
